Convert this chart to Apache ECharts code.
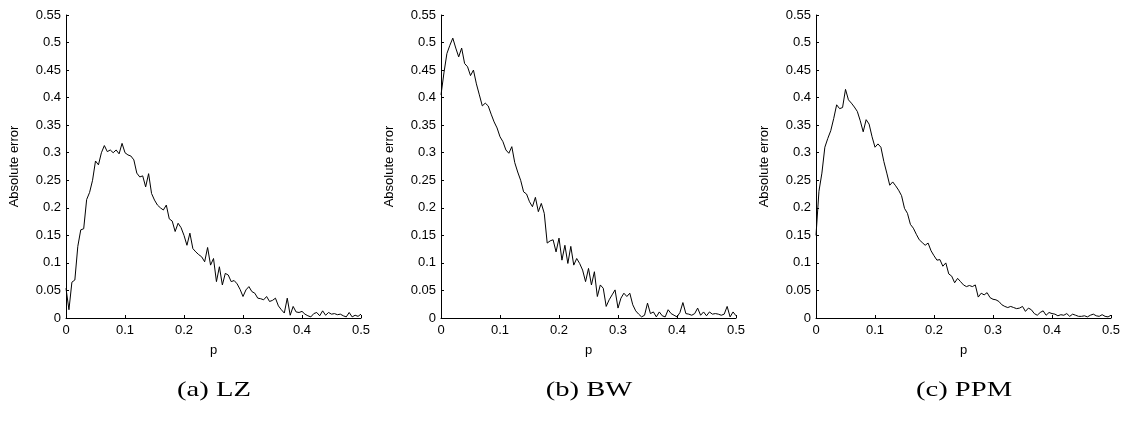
<!DOCTYPE html>
<html>
<head>
<meta charset="utf-8">
<script src="https://cdn.jsdelivr.net/npm/echarts@6/dist/echarts.min.js"></script>
<style>
html,body{margin:0;padding:0;background:#fff;}
#chart{width:1128px;height:427px;}
</style>
</head>
<body>
<div id="chart"></div>
<script>
// p values: 0 to 0.5, step 0.005 (101 points)
const pValues = Array.from({length: 101}, (_, i) => +(i * 0.005).toFixed(3));

const lzError = [
0.054,0.015,0.065,0.069,0.13,0.16,0.162,0.215,0.228,0.25,
0.285,0.278,0.30,0.313,0.302,0.305,0.300,0.305,0.298,0.317,
0.300,0.296,0.294,0.287,0.263,0.256,0.258,0.238,0.262,0.226,
0.214,0.205,0.200,0.196,0.205,0.180,0.176,0.157,0.172,0.164,
0.150,0.132,0.154,0.126,0.120,0.115,0.111,0.102,0.128,0.096,
0.108,0.066,0.093,0.060,0.081,0.078,0.066,0.068,0.062,0.052,
0.039,0.051,0.057,0.048,0.045,0.036,0.035,0.033,0.039,0.030,
0.032,0.036,0.022,0.015,0.009,0.036,0.005,0.021,0.011,0.010,
0.012,0.007,0.004,0.002,0.008,0.010,0.004,0.013,0.005,0.010,
0.007,0.008,0.006,0.007,0.004,0.002,0.010,0.002,0.005,0.003,
0.007];

const bwError = [
0.405,0.445,0.480,0.495,0.508,0.490,0.474,0.490,0.462,0.456,
0.440,0.450,0.425,0.405,0.385,0.390,0.385,0.370,0.356,0.345,
0.329,0.320,0.305,0.299,0.311,0.282,0.265,0.250,0.229,0.225,
0.211,0.202,0.219,0.193,0.208,0.190,0.136,0.140,0.142,0.120,
0.145,0.105,0.132,0.099,0.130,0.096,0.108,0.099,0.087,0.066,
0.090,0.060,0.084,0.039,0.060,0.054,0.021,0.033,0.042,0.051,
0.018,0.036,0.045,0.039,0.045,0.024,0.013,0.007,0.002,0.005,
0.027,0.008,0.011,0.002,0.011,0.004,0.002,0.015,0.008,0.005,
0.002,0.010,0.028,0.008,0.007,0.005,0.008,0.018,0.005,0.011,
0.004,0.011,0.007,0.008,0.007,0.005,0.007,0.021,0.002,0.011,
0.004];

const ppmError = [
0.150,0.230,0.263,0.310,0.326,0.340,0.362,0.387,0.380,0.382,
0.415,0.396,0.390,0.383,0.375,0.358,0.338,0.360,0.352,0.329,
0.310,0.316,0.310,0.284,0.263,0.241,0.247,0.240,0.232,0.222,
0.199,0.190,0.170,0.163,0.152,0.142,0.137,0.132,0.136,0.122,
0.113,0.105,0.106,0.094,0.100,0.080,0.076,0.064,0.072,0.066,
0.060,0.057,0.059,0.057,0.060,0.038,0.045,0.042,0.046,0.037,
0.034,0.033,0.030,0.024,0.021,0.019,0.021,0.019,0.017,0.018,
0.021,0.012,0.018,0.015,0.008,0.005,0.010,0.013,0.005,0.010,
0.008,0.007,0.004,0.006,0.005,0.008,0.003,0.007,0.005,0.003,
0.003,0.004,0.002,0.005,0.007,0.004,0.003,0.006,0.003,0.002,
0.005];

const captions = ['(a) LZ', '(b) BW', '(c) PPM'];
const seriesList = [lzError, bwError, ppmError];
const xTitle = 'p';
const yTitle = 'Absolute error';

const gridLefts = [66, 441, 816];
const gridWidth = 295;
const font = 'Liberation Sans, Arial, Helvetica, sans-serif';

const chart = echarts.init(document.getElementById('chart'), null, {renderer: 'canvas'});

const grids = [], xAxes = [], yAxes = [], series = [], graphics = [];
seriesList.forEach((vals, i) => {
  grids.push({left: gridLefts[i], top: 15, width: gridWidth, height: 303, containLabel: false});
  xAxes.push({
    type: 'value', gridIndex: i, min: 0, max: 0.5, interval: 0.1,
    name: xTitle, nameLocation: 'middle', nameGap: 26,
    nameTextStyle: {color: '#000', fontSize: 13, fontFamily: font},
    axisLine: {show: true, lineStyle: {color: '#000', width: 1}},
    axisTick: {show: true, inside: true, length: 3, lineStyle: {color: '#000'}},
    axisLabel: {color: '#000', fontSize: 13, fontFamily: font, margin: 6},
    splitLine: {show: false}
  });
  yAxes.push({
    type: 'value', gridIndex: i, min: 0, max: 0.55, interval: 0.05,
    name: yTitle, nameLocation: 'middle', nameGap: 45, nameRotate: 90,
    nameTextStyle: {color: '#000', fontSize: 13, fontFamily: font},
    axisLine: {show: true, lineStyle: {color: '#000', width: 1}},
    axisTick: {show: true, inside: true, length: 3, lineStyle: {color: '#000'}},
    axisLabel: {color: '#000', fontSize: 13, fontFamily: font, margin: 5,
      formatter: v => String(+v.toFixed(2))},
    splitLine: {show: false}
  });
  series.push({
    type: 'line', xAxisIndex: i, yAxisIndex: i,
    data: pValues.map((p, k) => [p, vals[k]]),
    showSymbol: false, symbol: 'none',
    lineStyle: {color: '#000', width: 1},
    animation: false
  });
  graphics.push({
    type: 'text', x: gridLefts[i] + gridWidth / 2 + 0.5, y: 390, scaleX: 1.3,
    style: {
      text: captions[i], fill: '#000',
      fontFamily: 'Liberation Serif, Times New Roman, serif', fontSize: 22,
      textAlign: 'center', textVerticalAlign: 'middle', align: 'center', verticalAlign: 'middle'
    }
  });
});

chart.setOption({
  backgroundColor: '#fff',
  animation: false,
  grid: grids,
  xAxis: xAxes,
  yAxis: yAxes,
  series: series,
  graphic: graphics
});
</script>
</body>
</html>
